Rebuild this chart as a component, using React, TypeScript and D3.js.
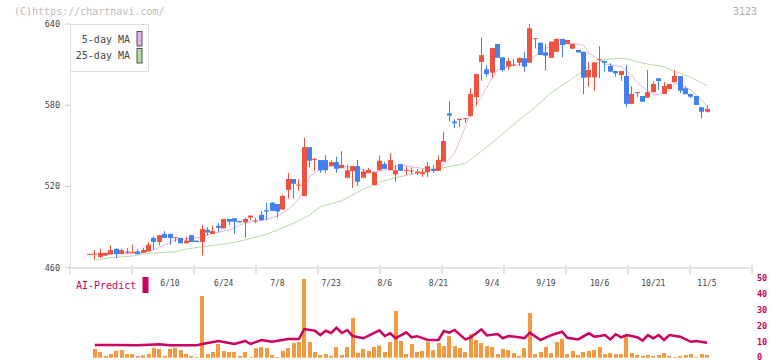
import React from "react";
import * as d3 from "d3";

// session index 0 = 6/10; first session is index -15
const firstIdx = -15;
const opens = [469.6,470,468,469,470,474,470,471,471,472,471,472,482,479,485,485,482,482,478,484,480,479,488,485,491,489,496,496.5,494.5,493.5,497,494.5,499,502.5,508,507,503,517.4,525.5,521,513,549,540,539.5,539.5,535,538,533.5,526.5,531.4,535,526.5,529.8,521,532,536.6,532,529,536.6,532,531.4,529.7,529.2,530.5,533,531.5,538.3,574,568,569,570,572,586,612,606.5,604,625.2,615.4,608.5,609.7,611.4,614.7,611.4,629,626.2,619,615,619.5,629,625.2,621.8,620.8,619.5,600.6,600.6,613.5,612.7,609,605.3,602.3,601.6,581,589.5,586.8,585.6,589.6,599.9,588.3,592,597,601.6,592.5,588.3,586.8,578.5,575.2];
const highs = [470.2,473,474,471,476.5,474,474,474.5,477,473.6,474.8,479,483,484,487,485,482.5,482,483,484,480,491.5,490,491,493,496,496,496.5,494.5,497,498.5,497,502,508,508.5,507,514,530,525.5,525.5,556,549,541,539.5,543,539.5,542,546,536,535,539.5,533,533.6,531,543,538,544.5,536,536.6,535,534,533,533,538,536,543,560.5,583,569.6,570,570.5,592.5,603,630,609.7,622.3,625.2,615.4,615,614,615,619.5,640,629.5,626.2,625.2,627,629,629,628.2,625.2,620.8,619.5,611.7,611.7,623.7,612.7,611,605.3,605.3,609.7,594,589.6,586.8,606,597.9,599.9,597,595.7,606,601.6,594,588.3,586.8,578.5,580.2];
const lows = [469.6,466,467,469,470,467,470,470,471,470,471,472,473.5,476.5,482,477,479,478,478,479,479,469,484,485,486,489,491.5,485,493.5,482,495,493,495,495,502,497,503,511,511,517,513,534,531.5,530,530,535,530,533.5,526,519,520.5,526,529.8,520.5,532,533,532,523.5,531.6,528.5,529,528.5,527,527,530,531.5,538.3,568,563,564,567,571.5,579.5,598,601,600.6,615.1,604.8,606,609,609,604.8,611.4,622,617.1,605.5,615,619.5,615.4,625.2,621.8,619,588.3,593.7,590.7,599.9,604.8,604.8,601,598.1,578.5,581,585.9,582.6,585.6,589.6,591.3,588.3,592,597,589,588.1,585.3,580.2,570.3,574.5];
const closes = [470.2,470.4,471,471,473,470,473,472,471.5,470,473,477,479,484,482,482,482.5,478,480,479,479,488.5,486,487,489.5,496,494,494,493.5,496,498.5,494.8,495,501.5,502,501.5,513,525.5,522,521.4,549,539,540.4,532,532,538,533,536,532,535,523.5,531,532.2,530.5,539,533,539.5,532,531.6,532.4,531.8,531,530.5,535,531.5,539.5,553.6,572.3,566.7,570,570.5,588.3,603,617,603,622.3,615.1,606,612.7,610,615,608.5,636.8,629.5,617.1,616.6,627,629,624.5,628.2,625.2,619,600.3,606,611.7,614,611.4,604.8,603.6,605.3,581,588.3,589.6,582.6,589.6,595.7,597.9,594.2,595.7,601.6,590.7,588.1,586.3,580.2,575.2,577.2];
const volumes = [0,5.5,3.6,1.1,2.3,4.4,4.8,2.3,2.3,1.1,1.5,2.3,6.1,5.5,1.1,5.5,6.3,4.8,2.3,1.1,0.4,38.7,2.3,3.6,8.6,4.2,3.6,3.6,1.1,3.6,0.4,6.1,6.7,6.1,1.7,0.4,4.2,6.1,9.2,9.8,49.4,9.8,3.6,1.7,2.3,1.1,6.7,1.7,6.7,24.9,3.1,5.5,4.2,6.7,7.6,3.6,9.8,29.3,10.5,2.3,8.6,3.6,4.2,10.0,4.8,9.2,7.3,13.6,7.3,6.1,3.6,14.9,11.1,9.2,7.3,6.7,2.3,5.5,4.8,2.9,1.1,6.1,28.0,2.3,3.6,6.7,2.9,9.8,11.7,2.3,4.2,1.7,3.6,4.2,4.8,6.7,2.3,2.9,2.3,2.3,13.6,2.9,1.7,1.1,1.7,1.1,1.7,2.9,1.1,0.4,1.1,1.7,2.3,0.4,2.3,1.7];

const ma5Idx = [-13,-10,-7,-5,-3,-1,1,4,6,8,11,13,15,18,20,22,24,25,26,28,30,33,35,38,40,43,46,49,51,53,54,56,58,60,61,64,66,68,70,73,75,77,78,80,81,84,86,87,88,90,92,93,94,95,97,99,100];
const ma5Val = [468.6,470.6,470.6,471.1,473.1,476.8,480.5,481.7,482.5,485.4,487.8,491.5,494.0,495.8,498.2,503.0,510.7,518.6,527.2,533.4,535.3,534.6,533.4,530.5,532.2,535.9,533.9,532.2,535.9,544.5,554.3,574.0,586.3,599.9,606.0,609.7,610.5,616.4,622.1,625.2,625.7,624.5,618.4,613.4,610.5,608.5,602.3,596.6,593.7,587.5,588.8,591.3,596.2,595.0,591.3,583.9,578.9];
const ma25Idx = [-14,-11,-7,-5,-2,1,3,7,11,14,18,20,23,26,28,32,36,39,42,45,48,51,55,58,61,65,68,71,75,78,81,84,86,88,92,93,95,97,100];
const ma25Val = [465.7,467.4,468.6,470.1,471.1,471.8,473.8,476.0,478.0,480.5,484.7,487.8,492.8,498.9,505.0,509.5,517.9,523.1,526.5,529.2,532.2,533.9,537.1,546.0,555.6,569.1,578.5,589.3,599.9,608.5,613.9,614.7,613.4,611.0,608.5,606.5,603.6,600.6,594.4];
const aiIdx = [-14,-10,-6,-2,0,5,6,7,9,11,12,14,15,17,19,22,24,25,27,28,29,30,31,32,33,34,36,39,40,41,42,44,45,46,48,50,51,52,53,55,56,58,59,61,62,63,65,66,67,69,71,73,74,76,78,79,80,81,82,83,84,85,87,88,89,90,91,92,93,95,97,98,100];
const aiVal = [8,8,7.8,8.4,7.8,7.8,8.6,9.2,10.5,9.2,8.6,10.5,8.6,11.1,10.0,11.7,11.7,18.0,16.9,14.2,16.9,15.5,18.8,15.5,17.4,13.6,12.2,17.2,13.6,15.3,12.2,15.9,12.8,13.5,11.1,11.1,16.7,15.7,17.4,11.5,12.8,17.8,14.0,14.9,12.2,13.6,12.8,12.2,15.7,11.1,14.2,16.3,12.5,11.5,15.3,13.2,13.6,14.2,11.5,14.7,12.8,14.2,12.8,10.7,14.2,12.2,14.2,11.1,14.2,13.2,10.0,10.5,9.4];

const xLabels = ["6/10","6/24","7/8","7/23","8/6","8/21","9/4","9/19","10/6","10/21","11/5"];
const xLabelIdx = [0,10,20,30,40,50,60,70,80,90,100];
const yTicks = [640,580,520,460];
const rTicks = [0,10,20,30,40,50];
const gridCount = 11;

const RED = "#f0523f";
const BLUE = "#4080f0";
const MONO = "'DejaVu Sans Mono', monospace";

export default function App() {
  const x = d3.scaleLinear().domain([-15, 100]).range([89.45, 707]);
  const y = d3.scaleLinear().domain([460, 640]).range([267.7, 24]);
  const yb = d3.scaleLinear().domain([0, 50]).range([357.7, 278]);
  const g = d3.scaleLinear().domain([0, gridCount]).range([70, 752]);

  const line = d3.line<[number, number]>().x(d => x(d[0])).y(d => y(d[1]));
  const lineB = d3.line<[number, number]>().x(d => x(d[0])).y(d => yb(d[1]));
  const ma5 = line(ma5Idx.map((v, k) => [v, ma5Val[k]]));
  const ma25 = line(ma25Idx.map((v, k) => [v, ma25Val[k]]));
  const ai = lineB(aiIdx.map((v, k) => [v, aiVal[k]]));

  return (
    <svg width={772} height={361} style={{ position: "absolute", left: 0, top: 0, background: "#fff" }} fontFamily={MONO}>
      <text x={14} y={14.5} fontSize={10} fill="#bbb">(C)https://chartnavi.com/</text>
      <text x={757} y={15} fontSize={10} fill="#aaa" textAnchor="end">3123</text>

      {/* axes */}
      <line x1={70.5} x2={70.5} y1={24} y2={268} stroke="#e2e2e2" strokeWidth={1} />
      <line x1={70} x2={752} y1={268} y2={268} stroke="#e2e2e2" strokeWidth={2} />
      {d3.range(gridCount + 1).map(k => (
        <line key={"g" + k} x1={g(k)} x2={g(k)} y1={265} y2={274} stroke="#e2e2e2" strokeWidth={2} />
      ))}
      {yTicks.map(t => (
        <g key={"y" + t}>
          <line x1={65} x2={70} y1={y(t)} y2={y(t)} stroke="#ccc" strokeWidth={1} />
          <text x={60} y={y(t) + 3} fontSize={8.5} fill="#444" textAnchor="end">{t}</text>
        </g>
      ))}
      {xLabels.map((l, k) => (
        <text key={"x" + k} x={x(xLabelIdx[k])} y={285.5} fontSize={8} fill="#444" textAnchor="middle">{l}</text>
      ))}

      {/* MAs */}
      <path d={ma25 || ""} fill="none" stroke="#b4dba4" strokeWidth={1} />
      <path d={ma5 || ""} fill="none" stroke="#e8b2ea" strokeWidth={1} />

      {/* candles */}
      {opens.map((o, k) => {
        const i = firstIdx + k;
        const c = closes[k];
        const up = c >= o;
        const col = up ? RED : BLUE;
        const left = Math.round(x(i) - 2.5);
        const top = y(Math.max(o, c));
        const h = Math.max(1, y(Math.min(o, c)) - top);
        return (
          <g key={"c" + k}>
            <line x1={left + 2.5} x2={left + 2.5} y1={y(highs[k])} y2={y(lows[k])} stroke={col} strokeWidth={1} />
            <rect x={left} y={top} width={5} height={h} fill={col} />
          </g>
        );
      })}

      {/* legend */}
      <rect x={70.5} y={24.5} width={78} height={47} fill="#fff" stroke="#ddd" />
      <text x={130} y={42.5} fontSize={10} fill="#444" textAnchor="end">5-day MA</text>
      <rect x={137} y={31.5} width={5} height={14.5} fill="#e8b2ea" stroke="#555" />
      <text x={130} y={59} fontSize={10} fill="#444" textAnchor="end">25-day MA</text>
      <rect x={137} y={48.5} width={5} height={14.5} fill="#b4dba4" stroke="#555" />

      {/* bottom panel */}
      {volumes.map((v, k) => {
        const i = firstIdx + k;
        if (v <= 0) return null;
        const left = Math.round(x(i) - 2);
        return <rect key={"v" + k} x={left} y={yb(v)} width={4} height={yb(0) - yb(v)} fill="#f3993f" />;
      })}
      <path d={ai || ""} fill="none" stroke="#cc0060" strokeWidth={2.5} />
      {rTicks.map(t => (
        <text key={"r" + t} x={757} y={Math.min(yb(t) + 3, 359.5)} fontSize={8.5} fontWeight="bold" fill="#cc0060">{t}</text>
      ))}
      <text x={76} y={288.7} fontSize={10} fill="#cc0060">AI-Predict</text>
      <rect x={142.5} y={277} width={6} height={16} fill="#cc0060" />
    </svg>
  );
}
